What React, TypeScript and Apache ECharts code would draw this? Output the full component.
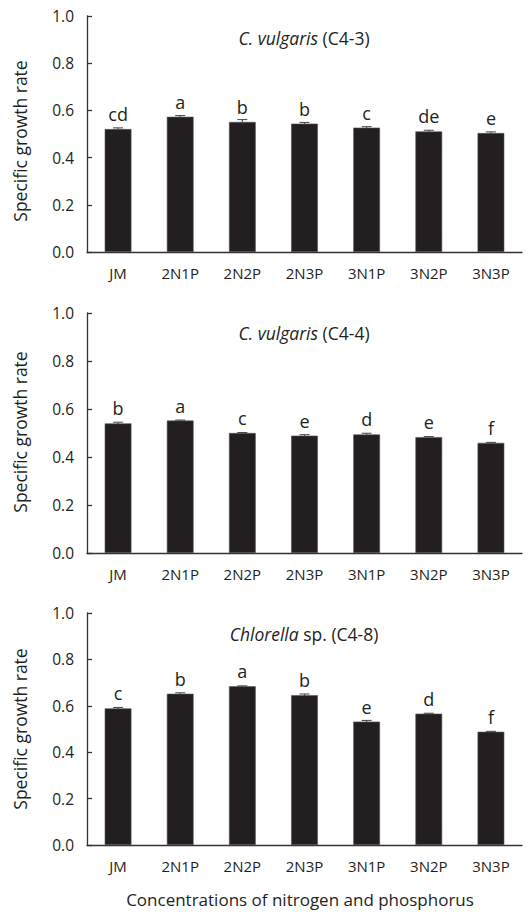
import React, { useEffect, useRef } from "react";
import * as echarts from "echarts";

const categories = ["JM", "2N1P", "2N2P", "2N3P", "3N1P", "3N2P", "3N3P"];

const c43Values = [0.521, 0.573, 0.551, 0.544, 0.527, 0.511, 0.504];
const c43Errors = [0.005, 0.005, 0.01, 0.005, 0.004, 0.005, 0.005];
const c43Letters = ["cd", "a", "b", "b", "c", "de", "e"];

const c44Values = [0.54, 0.552, 0.5, 0.489, 0.494, 0.483, 0.459];
const c44Errors = [0.005, 0.002, 0.002, 0.004, 0.005, 0.002, 0.002];
const c44Letters = ["b", "a", "c", "e", "d", "e", "f"];

const c48Values = [0.589, 0.652, 0.684, 0.646, 0.532, 0.566, 0.488];
const c48Errors = [0.004, 0.004, 0.002, 0.005, 0.005, 0.002, 0.002];
const c48Letters = ["c", "b", "a", "b", "e", "d", "f"];

const panelTitles = [
  "{i|C. vulgaris} (C4-3)",
  "{i|C. vulgaris} (C4-4)",
  "{i|Chlorella} sp. (C4-8)",
];
const yAxisTitle = "Specific growth rate";
const xAxisTitle = "Concentrations of nitrogen and phosphorus";

const FONT = "'Open Sans', 'Noto Sans', sans-serif";
const INK = "#231f20";

export default function App() {
  const ref = useRef<HTMLDivElement>(null);

  useEffect(() => {
    if (!ref.current) return;
    const chart = echarts.init(ref.current, null, { renderer: "svg" });

    const panels = [
      { values: c43Values, errors: c43Errors, letters: c43Letters, top: 16, height: 236, titleY: 38, nameY: 141 },
      { values: c44Values, errors: c44Errors, letters: c44Letters, top: 313, height: 240, titleY: 333, nameY: 432 },
      { values: c48Values, errors: c48Errors, letters: c48Letters, top: 613, height: 232, titleY: 634, nameY: 729 },
    ];

    const grids = panels.map((p) => ({
      left: 87,
      right: 9,
      top: p.top,
      height: p.height,
      containLabel: false,
    }));

    const xAxes = panels.map((_, i) => ({
      type: "category",
      gridIndex: i,
      data: categories,
      axisLine: { show: true, lineStyle: { color: "#333", width: 1.3 } },
      axisTick: { show: false },
      axisLabel: { color: INK, fontFamily: FONT, fontSize: 15, margin: 13 },
      splitLine: { show: false },
    }));

    const yAxes = panels.map((_, i) => ({
      type: "value",
      gridIndex: i,
      min: 0,
      max: 1,
      interval: 0.2,
      axisLine: { show: true, lineStyle: { color: "#333", width: 1.3 } },
      axisTick: { show: true, inside: true, length: 5, lineStyle: { color: "#333", width: 1.3 } },
      axisLabel: {
        color: INK,
        fontFamily: FONT,
        fontSize: 15.5,
        margin: 13,
        formatter: (v: number) => v.toFixed(1),
      },
      splitLine: { show: false },
    }));

    const series: any[] = [];
    panels.forEach((p, i) => {
      series.push({
        type: "bar",
        xAxisIndex: i,
        yAxisIndex: i,
        data: p.values,
        barWidth: "43%",
        itemStyle: { color: INK, borderColor: "#555", borderWidth: 0.6 },
        label: {
          show: true,
          position: "top",
          distance: 6,
          color: INK,
          fontFamily: FONT,
          fontSize: 18,
          formatter: (params: any) => p.letters[params.dataIndex],
        },
        z: 2,
      });
      series.push({
        type: "custom",
        xAxisIndex: i,
        yAxisIndex: i,
        data: p.values.map((v, k) => [k, v, p.errors[k]]),
        renderItem: (params: any, api: any) => {
          const x = api.value(0);
          const v = api.value(1);
          const e = api.value(2);
          const top = api.coord([x, v + e]);
          const bot = api.coord([x, v - e]);
          const half = 5;
          const style = { stroke: "#444", lineWidth: 1 };
          return {
            type: "group",
            children: [
              { type: "line", shape: { x1: top[0], y1: top[1], x2: bot[0], y2: bot[1] }, style },
              { type: "line", shape: { x1: top[0] - half, y1: top[1], x2: top[0] + half, y2: top[1] }, style },
            ],
          };
        },
        z: 3,
        silent: true,
      });
    });

    const graphics: any[] = [];
    panels.forEach((p, i) => {
      graphics.push({
        type: "text",
        x: 304,
        y: p.titleY,
        style: {
          text: panelTitles[i],
          fill: INK,
          fontFamily: FONT,
          fontSize: 17.5,
          align: "center",
          verticalAlign: "middle",
          rich: { i: { fontStyle: "italic", fontFamily: FONT, fontSize: 17.5, fill: INK } },
        },
      });
      graphics.push({
        type: "text",
        x: 20,
        y: p.nameY,
        rotation: Math.PI / 2,
        style: {
          text: yAxisTitle,
          fill: INK,
          fontFamily: FONT,
          fontSize: 17.5,
          align: "center",
          verticalAlign: "middle",
        },
      });
    });
    graphics.push({
      type: "text",
      x: 300,
      y: 899,
      style: {
        text: xAxisTitle,
        fill: INK,
        fontFamily: FONT,
        fontSize: 17,
        align: "center",
        verticalAlign: "middle",
      },
    });

    chart.setOption({
      animation: false,
      backgroundColor: "#ffffff",
      grid: grids,
      xAxis: xAxes,
      yAxis: yAxes,
      series,
      graphic: graphics,
    });

    return () => chart.dispose();
  }, []);

  return (
    <div
      ref={ref}
      style={{ position: "absolute", left: 0, top: 0, width: 531, height: 912 }}
    />
  );
}
